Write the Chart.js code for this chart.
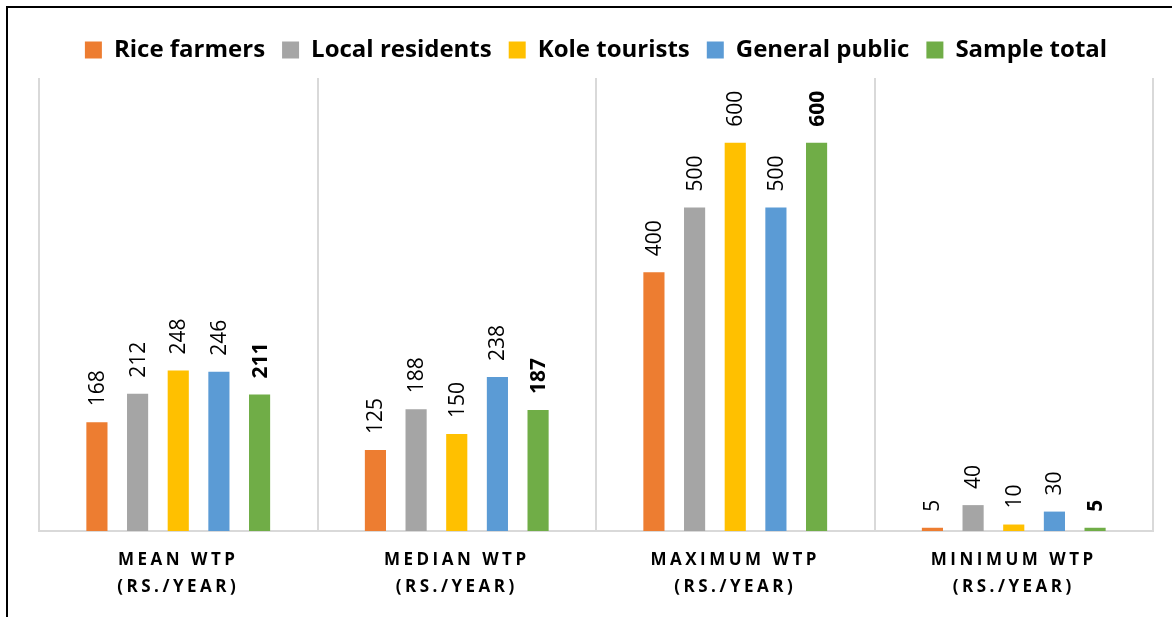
<!DOCTYPE html>
<html>
<head>
<meta charset="utf-8">
<script src="https://cdn.jsdelivr.net/npm/chart.js@4.4.1/dist/chart.umd.min.js"></script>
<style>
  html, body { margin: 0; padding: 0; background: #fff; }
  #wrap { position: relative; width: 1172px; height: 617px; overflow: hidden; }
  #frame { position: absolute; left: 6px; top: 6px; right: -10px; bottom: -10px;
           border-top: 2px solid #000; border-left: 2px solid #000; pointer-events: none; }
  canvas { position: absolute; left: 0; top: 0; }
</style>
</head>
<body>
<div id="wrap">
  <canvas id="wtpChart" width="1172" height="617"></canvas>
  <div id="frame"></div>
</div>
<script>
// categories (two-line axis labels)
const categories = [
    ['MEAN WTP', '(RS./YEAR)'],
    ['MEDIAN WTP', '(RS./YEAR)'],
    ['MAXIMUM WTP', '(RS./YEAR)'],
    ['MINIMUM WTP', '(RS./YEAR)']
];

// series values, in category order: mean, median, maximum, minimum
const riceFarmers    = [168, 125, 400, 5];
const localResidents = [212, 188, 500, 40];
const koleTourists   = [248, 150, 600, 10];
const generalPublic  = [246, 238, 500, 30];
const sampleTotal    = [211, 187, 600, 5];

const seriesNames  = ['Rice farmers', 'Local residents', 'Kole tourists', 'General public', 'Sample total'];
const seriesColors = ['#ED7D31', '#A5A5A5', '#FFC000', '#5B9BD5', '#70AD47'];
const seriesData   = [riceFarmers, localResidents, koleTourists, generalPublic, sampleTotal];

// value labels written above each bar, rotated
const barLabels = {
    id: 'barLabels',
    afterDatasetsDraw(chart) {
        const ctx = chart.ctx;
        chart.data.datasets.forEach((ds, i) => {
            const meta = chart.getDatasetMeta(i);
            const bold = i === chart.data.datasets.length - 1;
            meta.data.forEach((bar, j) => {
                ctx.save();
                ctx.translate(bar.x + 1, bar.y - 16);
                ctx.rotate(-Math.PI / 2);
                ctx.font = (bold ? 'bold ' : '') + '21px "Open Sans"';
                ctx.fillStyle = '#000';
                ctx.textAlign = 'left';
                ctx.textBaseline = 'middle';
                ctx.fillText(String(ds.data[j]), 0, 0);
                ctx.restore();
            });
        });
        // axis tick labels are drawn after this (ticks.z = 1) with letter spacing
        ctx.letterSpacing = '3.5px';
    },
    afterDraw(chart) {
        chart.ctx.letterSpacing = '0px';
    }
};

new Chart(document.getElementById('wtpChart'), {
    type: 'bar',
    data: {
        labels: categories,
        datasets: seriesNames.map((name, i) => ({
            label: name,
            data: seriesData[i],
            backgroundColor: seriesColors[i],
            categoryPercentage: 0.73,
            barPercentage: 0.52
        }))
    },
    options: {
        responsive: false,
        animation: false,
        layout: { padding: { left: 39, right: 19, top: 21, bottom: 0 } },
        plugins: {
            legend: {
                position: 'top',
                labels: {
                    boxWidth: 17,
                    boxHeight: 17,
                    padding: 17,
                    color: '#000',
                    font: { family: 'Open Sans', size: 24, weight: 'bold' }
                }
            },
            // empty spacer between legend and plot area
            title: {
                display: true,
                text: '',
                weight: 500,
                padding: 0,
                font: { size: 1, lineHeight: '6px' }
            },
            tooltip: { enabled: false }
        },
        scales: {
            x: {
                grid: { color: '#d9d9d9', lineWidth: 2, drawTicks: false, offset: true },
                border: { color: '#d9d9d9', width: 2 },
                ticks: {
                    z: 1,
                    padding: 16,
                    color: '#000',
                    maxRotation: 0,
                    font: { family: 'Open Sans', size: 17, weight: 'bold', lineHeight: '27px' }
                },
                afterFit(scale) { scale.height = 86; }
            },
            y: {
                display: false,
                min: 0,
                max: 700
            }
        }
    },
    plugins: [barLabels]
});
</script>
</body>
</html>
